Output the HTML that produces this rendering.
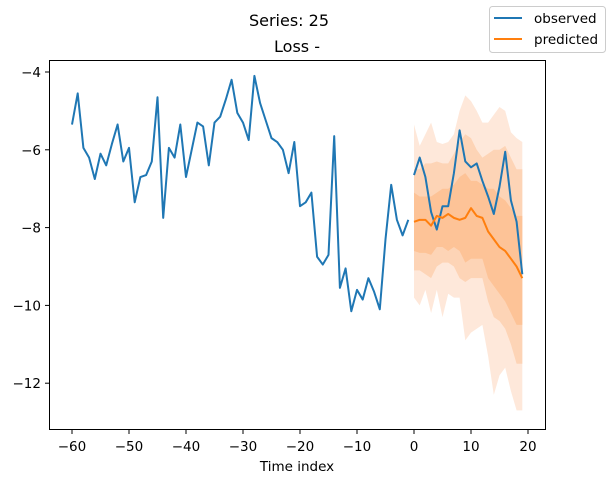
<!DOCTYPE html>
<html><head><meta charset="utf-8"><style>body{margin:0;background:#fff}svg{font-family:"DejaVu Sans","Liberation Sans",sans-serif}</style></head>
<body>
<svg id="c" width="612" height="483"></svg>
<script>
const pastT=[];for(let t=-60;t<0;t++)pastT.push(t);
const futT=[];for(let t=0;t<20;t++)futT.push(t);
const pastObs=[-5.35,-4.55,-5.95,-6.2,-6.75,-6.1,-6.4,-5.85,-5.35,-6.3,-5.95,-7.35,-6.7,-6.65,-6.3,-4.65,-7.75,-5.95,-6.2,-5.35,-6.7,-6.0,-5.3,-5.4,-6.4,-5.3,-5.15,-4.7,-4.2,-5.05,-5.3,-5.75,-4.1,-4.8,-5.25,-5.7,-5.8,-6.0,-6.6,-5.8,-7.45,-7.35,-7.1,-8.75,-8.95,-8.7,-5.65,-9.55,-9.05,-10.15,-9.6,-9.85,-9.3,-9.65,-10.1,-8.3,-6.9,-7.8,-8.2,-7.8];
const futObs=[-6.65,-6.2,-6.7,-7.6,-8.05,-7.45,-7.45,-6.6,-5.5,-6.3,-6.45,-6.35,-6.8,-7.2,-7.65,-6.95,-6.05,-7.3,-7.85,-9.2];
const predicted=[-7.85,-7.8,-7.8,-7.95,-7.7,-7.75,-7.65,-7.75,-7.8,-7.75,-7.5,-7.7,-7.75,-8.1,-8.3,-8.5,-8.6,-8.8,-9.0,-9.3];
const outerHi=[-5.35,-5.9,-5.6,-5.3,-5.8,-5.85,-5.8,-5.6,-5.0,-4.6,-4.75,-5.0,-5.3,-5.3,-5.1,-4.9,-5.0,-5.55,-5.7,-5.8];
const outerLo=[-9.8,-10.0,-9.6,-10.2,-9.6,-10.3,-9.7,-9.8,-9.8,-10.9,-10.7,-10.6,-10.5,-11.3,-12.3,-11.8,-11.6,-12.2,-12.7,-12.7];
const midHi=[-6.5,-6.5,-6.35,-6.35,-6.3,-6.35,-6.35,-6.1,-5.8,-5.6,-5.7,-6.0,-6.2,-6.1,-6.0,-6.0,-5.9,-6.2,-6.5,-6.5];
const midLo=[-9.1,-9.1,-9.2,-9.3,-9.0,-8.9,-8.9,-9.0,-9.3,-9.4,-9.3,-9.3,-9.3,-9.9,-10.3,-10.4,-10.6,-11.0,-11.5,-11.5];
const innerHi=[-7.1,-7.2,-7.2,-7.2,-7.1,-7.0,-7.0,-6.9,-6.7,-6.6,-6.8,-6.8,-6.9,-7.0,-7.0,-7.2,-7.3,-7.5,-7.7,-7.7];
const innerLo=[-8.6,-8.65,-8.65,-8.7,-8.5,-8.5,-8.6,-8.5,-8.6,-8.9,-8.8,-8.8,-8.8,-9.3,-9.5,-9.7,-9.9,-10.2,-10.5,-10.5];
const xTicks=[-60,-50,-40,-30,-20,-10,0,10,20];
const yTicks=[-4,-6,-8,-10,-12];

const X=t=>72+(t+60)*5.7, Y=v=>72+(-4-v)*38.9;
const svg=document.getElementById('c');const NS='http://www.w3.org/2000/svg';
function mk(tag,at,txt){const e=document.createElementNS(NS,tag);for(const k in at)e.setAttribute(k,at[k]);if(txt!=null)e.textContent=txt;svg.appendChild(e);return e;}
function band(hi,lo,col,name){let d='M'+futT.map((t,i)=>X(t)+','+Y(hi[i])).join('L');for(let i=futT.length-1;i>=0;i--)d+='L'+X(futT[i])+','+Y(lo[i]);const e=mk('path',{d:d+'Z',fill:col,stroke:'none'});

}
band(outerHi,outerLo,'#fee8da','outer-band');
band(midHi,midLo,'#fdd4b6','middle-band');
band(innerHi,innerLo,'#fdc397','inner-band');
function line(ts,vs,col,name){const e=mk('polyline',{points:ts.map((t,i)=>X(t)+','+Y(vs[i])).join(' '),fill:'none',stroke:col,'stroke-width':2,'stroke-linejoin':'round'});

}
line(pastT,pastObs,'#1f77b4','observed-history-line');
line(futT,futObs,'#1f77b4','observed-future-line');
line(futT,predicted,'#ff7f0e','predicted-line');
const fr=mk('rect',{x:49.5,y:60.5,width:496,height:369,fill:'none',stroke:'#000','stroke-width':1});

xTicks.forEach(t=>{mk('line',{x1:X(t),x2:X(t),y1:430,y2:434,stroke:'#000'});const e=mk('text',{x:X(t),y:451,'text-anchor':'middle','font-size':13.5},String(t).replace('-','−'));
});
yTicks.forEach(v=>{mk('line',{x1:45,x2:49,y1:Y(v),y2:Y(v),stroke:'#000'});const e=mk('text',{x:41,y:Y(v)+5,'text-anchor':'end','font-size':13.5},String(v).replace('-','−'));
});
</script>
<svg style="position:absolute;left:0;top:0" width="612" height="483" font-family="DejaVu Sans, Liberation Sans, sans-serif">
<text x="297" y="471" text-anchor="middle" font-size="13.5">Time index</text>
<text x="289" y="26" text-anchor="middle" font-size="16">Series: 25</text>
<text x="297" y="52" text-anchor="middle" font-size="16">Loss -</text>
<g>
<rect x="489.5" y="6.5" width="116" height="46" rx="3" fill="#fff" stroke="#ccc"/>
<line x1="494" x2="522" y1="18" y2="18" stroke="#1f77b4" stroke-width="2"/>
<text x="534" y="23" font-size="13.5">observed</text>
<line x1="494" x2="522" y1="39" y2="39" stroke="#ff7f0e" stroke-width="2"/>
<text x="534" y="44" font-size="13.5">predicted</text>
</g>
</svg>
</body></html>
